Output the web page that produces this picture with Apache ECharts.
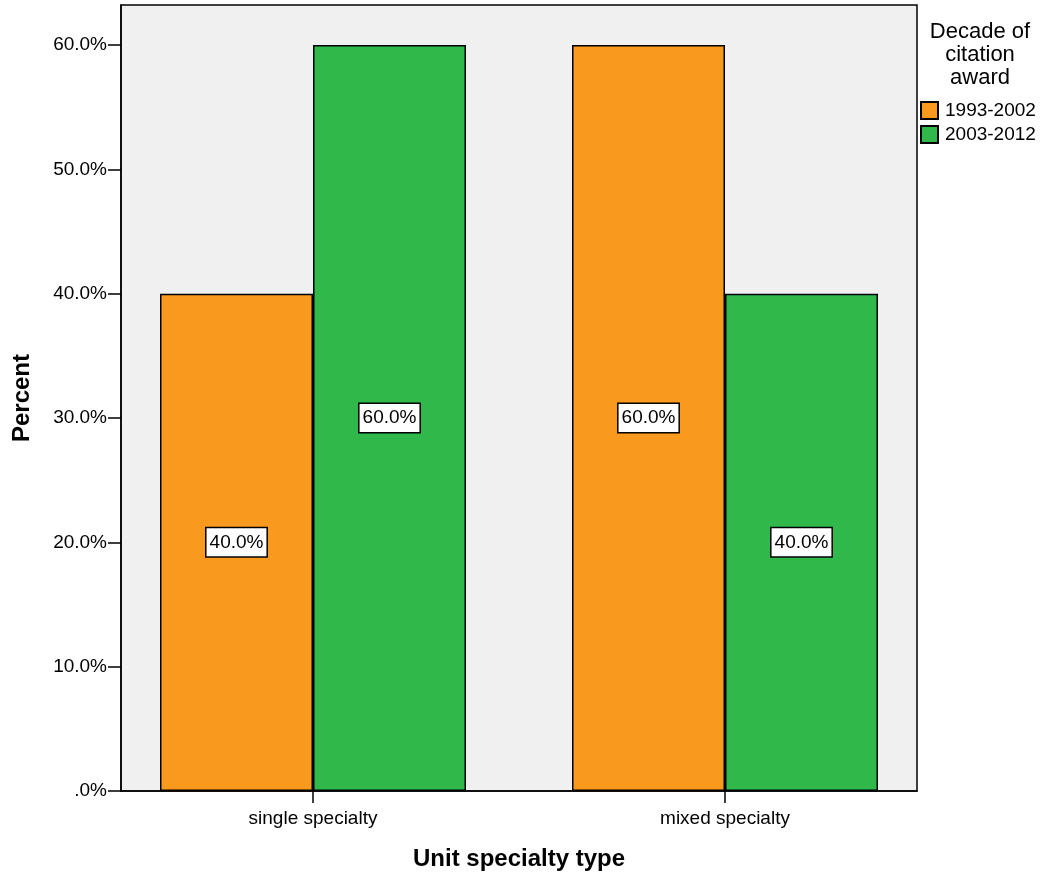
<!DOCTYPE html>
<html><head><meta charset="utf-8">
<script src="https://cdn.jsdelivr.net/npm/echarts@6/dist/echarts.min.js"></script>
<style>html,body{margin:0;padding:0;background:#fff}#c{width:1044px;height:879px}</style>
</head><body><div id="c"></div>
<script>
const categories = ['single specialty', 'mixed specialty'];
const seriesNames = ['1993-2002', '2003-2012'];
const values1993 = [40.0, 60.0];
const values2003 = [60.0, 40.0];
const yTicks = [0, 10, 20, 30, 40, 50, 60];
const yMax = 63.22;

const font = '"Liberation Sans", Arial, sans-serif';
const chart = echarts.init(document.getElementById('c'));
const labelStyle = {
  show: true, position: 'inside', color: '#000', fontFamily: font, fontSize: 19,
  backgroundColor: '#fff', borderColor: '#000', borderWidth: 1.5, padding: [5, 3, 4, 3],
  formatter: p => p.value.toFixed(1) + '%'
};
chart.setOption({
  animation: false,
  textStyle: { fontFamily: font },
  title: {
    text: 'Decade of\ncitation\naward', left: 975, top: 15, textAlign: 'center',
    textStyle: { fontFamily: font, fontSize: 22, fontWeight: 'normal', color: '#000', lineHeight: 23 }
  },
  legend: {
    orient: 'vertical', left: 915, top: 96, itemWidth: 17, itemHeight: 17, itemGap: 5,
    icon: 'rect', data: seriesNames,
    textStyle: { fontFamily: font, fontSize: 19, color: '#000', padding: [0, 0, 0, 2] },
    itemStyle: { borderColor: '#000', borderWidth: 2 }
  },
  grid: [
    { left: 121, right: 127, top: 5, bottom: 88, show: true, backgroundColor: '#f0f0f0', borderColor: '#000', borderWidth: 1.5, containLabel: false },
    { left: 107, right: 113, top: 5, bottom: 88, containLabel: false }
  ],
  xAxis: [
    { type: 'category', gridIndex: 0, data: categories, axisLine: { show: true, lineStyle: { color: '#000', width: 1.5 } }, axisTick: { show: false }, axisLabel: { show: false } },
    { type: 'category', gridIndex: 1, data: categories, axisLine: { show: false },
      axisTick: { show: true, alignWithLabel: true, length: 12, lineStyle: { color: '#000', width: 1.5 } },
      axisLabel: { show: true, color: '#000', fontFamily: font, fontSize: 19, margin: 18 },
      name: 'Unit specialty type', nameLocation: 'middle', nameGap: 56,
      nameTextStyle: { fontFamily: font, fontSize: 24, fontWeight: 'bold', color: '#000' } }
  ],
  yAxis: [
    { type: 'value', gridIndex: 0, min: 0, max: yMax, interval: 10,
      axisLine: { show: true, lineStyle: { color: '#000', width: 1.5 } },
      axisTick: { show: true, length: 13, customValues: yTicks, lineStyle: { color: '#000', width: 1.5 } },
      axisLabel: { show: true, customValues: yTicks, color: '#000', fontFamily: font, fontSize: 19, margin: 14,
        formatter: v => v === 0 ? '.0%' : v.toFixed(1) + '%' },
      splitLine: { show: false },
      name: 'Percent', nameLocation: 'middle', nameGap: 87,
      nameTextStyle: { fontFamily: font, fontSize: 24, fontWeight: 'bold', color: '#000' } },
    { type: 'value', gridIndex: 1, min: 0, max: yMax, show: false, splitLine: { show: false } }
  ],
  series: [
    { name: seriesNames[0], type: 'bar', xAxisIndex: 1, yAxisIndex: 1, data: values1993, barWidth: 153, barGap: '0%',
      itemStyle: { color: '#F99A1F', borderColor: '#000', borderWidth: 1.5 }, label: labelStyle },
    { name: seriesNames[1], type: 'bar', xAxisIndex: 1, yAxisIndex: 1, data: values2003, barWidth: 153, barGap: '0%',
      itemStyle: { color: '#31B84B', borderColor: '#000', borderWidth: 1.5 }, label: labelStyle }
  ]
});
</script></body></html>
